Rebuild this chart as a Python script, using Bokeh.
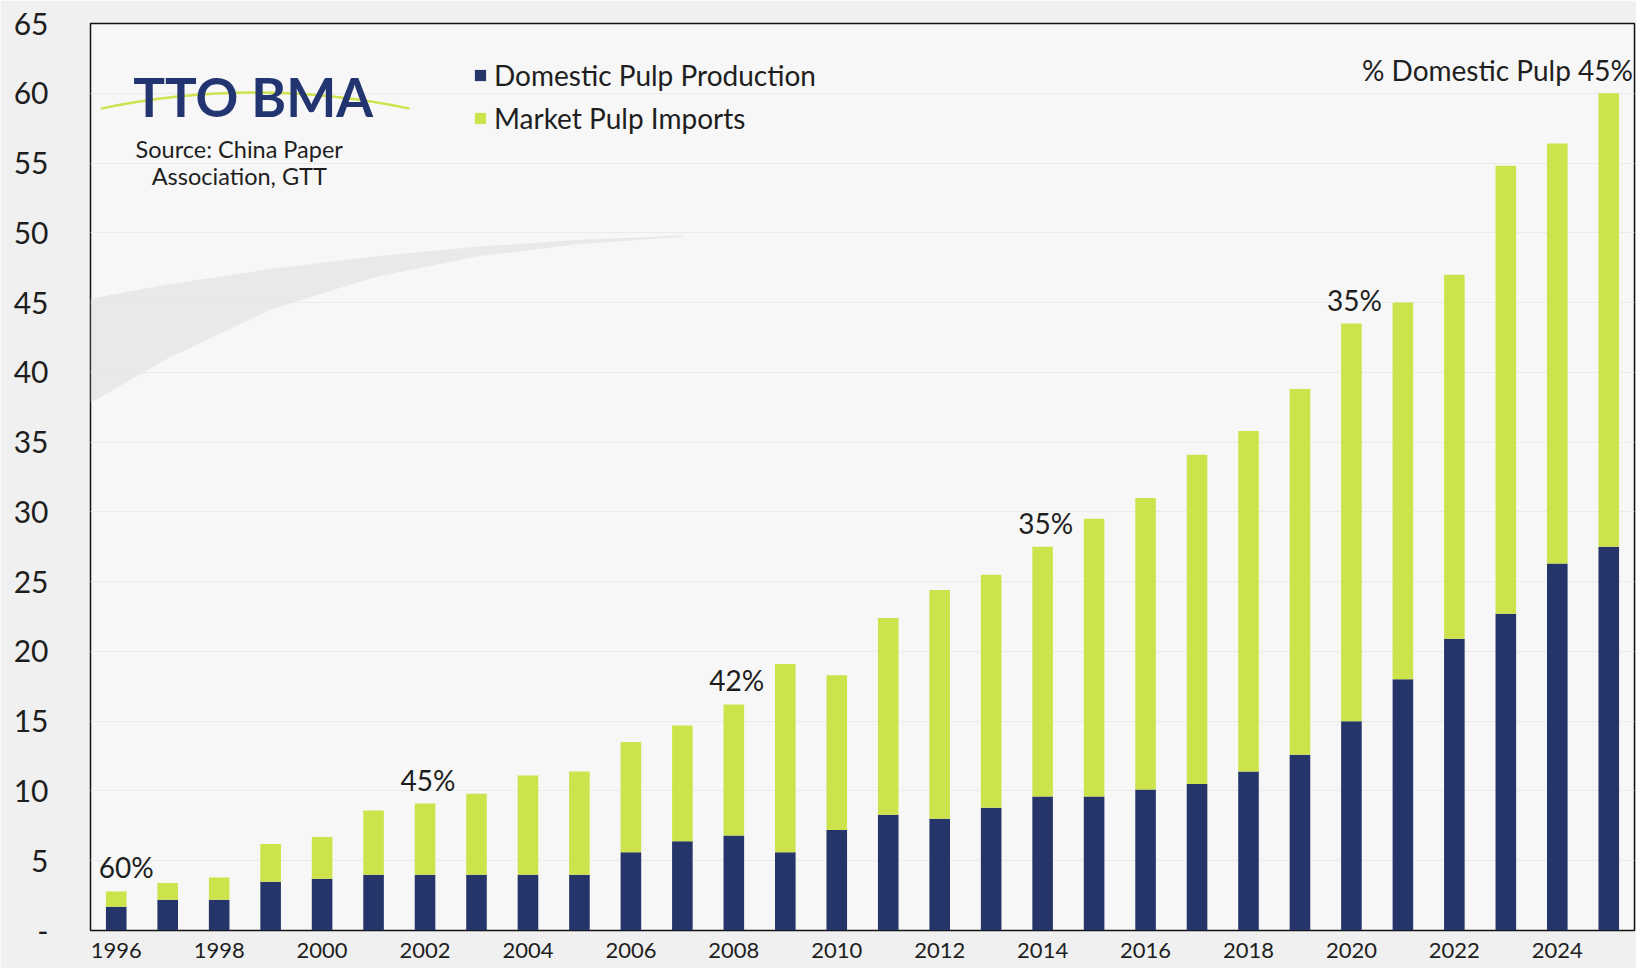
from bokeh.plotting import figure
from bokeh.models import Range1d, FixedTicker, Legend, LegendItem, Label
from bokeh.core.properties import value
from bokeh.embed import file_html
from bokeh.resources import INLINE

# ---- data ----
years = list(range(1996, 2026))
domestic = [1.7, 2.2, 2.2, 3.5, 3.7, 4.0, 4.0, 4.0, 4.0, 4.0,
            5.6, 6.4, 6.8, 5.6, 7.2, 8.3, 8.0, 8.8, 9.6, 9.6,
            10.1, 10.5, 11.4, 12.6, 15.0, 18.0, 20.9, 22.7, 26.3, 27.5]
imports = [1.1, 1.2, 1.6, 2.7, 3.0, 4.6, 5.1, 5.8, 7.1, 7.4,
           7.9, 8.3, 9.4, 13.5, 11.1, 14.1, 16.4, 16.7, 17.9, 19.9,
           20.9, 23.6, 24.4, 26.2, 28.5, 27.0, 26.1, 32.1, 30.1, 32.5]
pct_years = [1996, 2002, 2008, 2014, 2020]
pct_labels = ["60%", "45%", "42%", "35%", "35%"]
last_label = "% Domestic Pulp 45%"
series_names = ["Domestic Pulp Production", "Market Pulp Imports"]
y_ticks = list(range(0, 70, 5))
x_ticks = list(range(1996, 2026, 2))

NAVY = "#263569"
GREEN = "#cde34b"
TXT = "#1e1e1e"
FONT = "Lato"

total = [d + m for d, m in zip(domestic, imports)]

p = figure(width=1636, height=968, output_backend="svg", toolbar_location=None,
           x_range=Range1d(years[0] - 0.5, years[-1] + 0.5), y_range=Range1d(0, 65),
           min_border_left=90, min_border_right=2, min_border_top=23, min_border_bottom=38)

p.background_fill_color = "#f7f7f7"
p.border_fill_color = "#f0f0f0"
p.outline_line_color = "#111111"
p.outline_line_width = 1.5

# decorative background swoosh
p.patch([1995.5, 1997, 1999, 2001, 2003, 2005, 2007,
         2007, 2005, 2003, 2001, 1999, 1997, 1995.5],
        [45.3, 46.3, 47.4, 48.3, 49.0, 49.5, 49.8,
         49.7, 49.2, 48.3, 46.8, 44.5, 41.0, 37.8],
        fill_color="#dedede", fill_alpha=0.55, line_color=None)

src = dict(year=years, domestic=domestic, imports=imports)
rs = p.vbar_stack(["domestic", "imports"], x="year", width=0.4, color=[NAVY, GREEN],
                  line_color=None, source=src)

legend = Legend(items=[LegendItem(label=series_names[0], renderers=[rs[0]]),
                       LegendItem(label=series_names[1], renderers=[rs[1]])],
                location=(383, 795), orientation="vertical",
                glyph_width=14, glyph_height=14, label_height=30, spacing=9,
                label_standoff=7, padding=0, margin=0,
                label_text_font=FONT, label_text_font_size="28px", label_text_color=TXT,
                background_fill_alpha=0, border_line_color=None)
p.add_layout(legend, "center")

# percentage labels
for i, (yr, lab) in enumerate(zip(pct_years, pct_labels)):
    p.text(x=[yr], y=[total[years.index(yr)]], text=[lab], text_align="center",
           text_baseline="middle", x_offset=10 if i == 0 else 3, y_offset=-24,
           text_font=value(FONT), text_font_size="28px", text_color=TXT)
p.text(x=[years[-1] + 0.47], y=[total[-1]], text=[last_label], text_align="right",
       text_baseline="middle", y_offset=-23,
       text_font=value(FONT), text_font_size="28px", text_color=TXT)

# logo & source
p.quadratic(x0=[1995.7], y0=[58.9], x1=[2001.7], y1=[58.9], cx=[1998.7], cy=[61.2],
            line_color="#c9e03c", line_width=2.5, line_alpha=0.9)
p.add_layout(Label(x=1998.66, y=59.8, text="TTO BMA", text_align="center",
                   text_baseline="middle", text_font=FONT, text_font_style="bold",
                   text_font_size="53px", text_color="#223570"))
p.add_layout(Label(x=1998.39, y=56.0, text="Source: China Paper", text_align="center",
                   text_baseline="middle", text_font=FONT, text_font_size="23.5px",
                   text_color=TXT))
p.add_layout(Label(x=1998.39, y=54.1, text="Association, GTT", text_align="center",
                   text_baseline="middle", text_font=FONT, text_font_size="23.5px",
                   text_color=TXT))

# axes
p.yaxis.ticker = FixedTicker(ticks=y_ticks)
p.yaxis.major_label_overrides = {0: "-"}
p.yaxis.major_label_text_font = FONT
p.yaxis.major_label_text_font_size = "30px"
p.yaxis.major_label_text_color = TXT
p.yaxis.major_label_standoff = 42
p.yaxis.axis_line_color = None
p.yaxis.major_tick_line_color = None
p.yaxis.minor_tick_line_color = None
p.yaxis.major_tick_out = 0
p.yaxis.major_tick_in = 0

p.xaxis.ticker = FixedTicker(ticks=x_ticks)
p.xaxis.major_label_text_font = FONT
p.xaxis.major_label_text_font_size = "22px"
p.xaxis.major_label_text_color = TXT
p.xaxis.major_label_standoff = 12
p.xaxis.axis_line_color = None
p.xaxis.major_tick_line_color = None
p.xaxis.minor_tick_line_color = None
p.xaxis.major_tick_out = 0
p.xaxis.major_tick_in = 0

p.xgrid.grid_line_color = None
p.ygrid.ticker = FixedTicker(ticks=y_ticks)
p.ygrid.grid_line_color = "#ebebeb"
p.ygrid.grid_line_width = 1

open("out.html", "w").write(file_html(p, INLINE))
